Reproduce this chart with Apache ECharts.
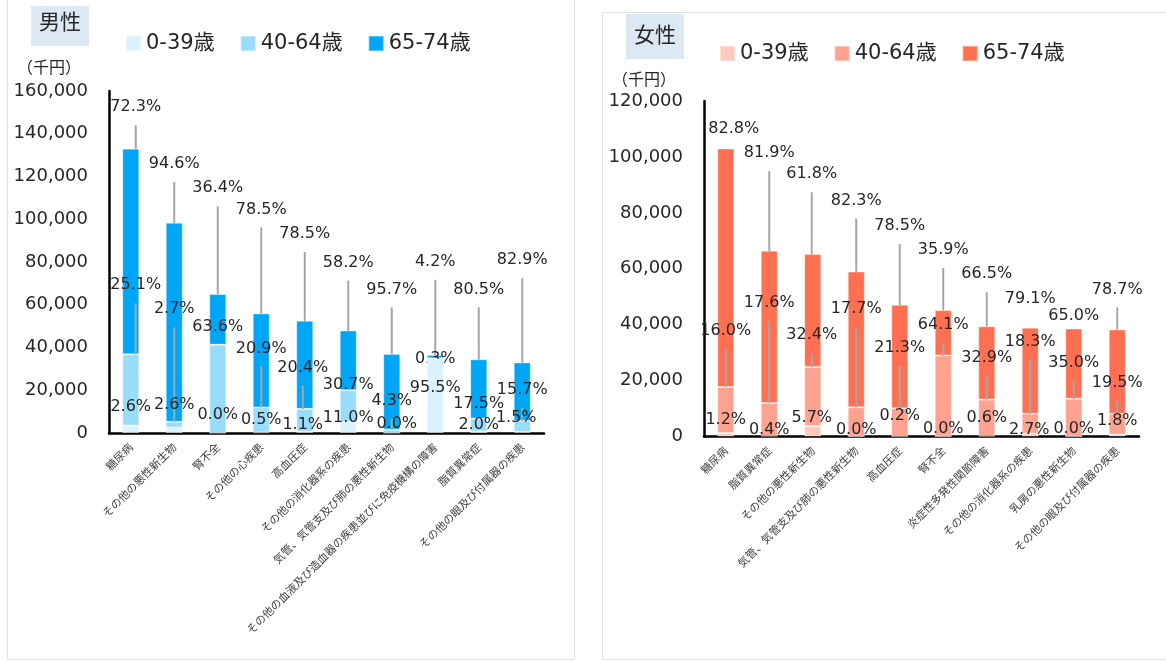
<!DOCTYPE html>
<html><head><meta charset="utf-8">
<script src="https://cdn.jsdelivr.net/npm/echarts@6/dist/echarts.min.js"></script>
<style>
html,body{margin:0;padding:0;background:#fff;width:1166px;height:662px;overflow:hidden}
#m{position:absolute;left:0;top:0;width:590px;height:662px}
#f{position:absolute;left:590px;top:0;width:576px;height:662px}
</style>
</head><body>
<div id="m"></div><div id="f"></div>
<script>
// ---------- data ----------
const ageGroups = ['0-39歳', '40-64歳', '65-74歳'];

const yTicksMale = [0, 20000, 40000, 60000, 80000, 100000, 120000, 140000, 160000];
const yTicksFemale = [0, 20000, 40000, 60000, 80000, 100000, 120000];

const maleCategories = ['糖尿病', 'その他の悪性新生物', '腎不全', 'その他の心疾患', '高血圧症',
  'その他の消化器系の疾患', '気管、気管支及び肺の悪性新生物',
  'その他の血液及び造血器の疾患並びに免疫機構の障害', '脂質異常症', 'その他の眼及び付属器の疾患'];
const male0_39  = [3460, 2560, 0, 280, 580, 5280, 0, 34860, 690, 500];
const male40_64 = [33380, 2660, 41340, 11700, 10710, 14740, 1590, 110, 6040, 5180];
const male65_74 = [96160, 93180, 23660, 43960, 41210, 27940, 35410, 1530, 27770, 27360];
const malePct0_39  = ['2.6', '2.6', '0.0', '0.5', '1.1', '11.0', '0.0', '95.5', '2.0', '1.5'];
const malePct40_64 = ['25.1', '2.7', '63.6', '20.9', '20.4', '30.7', '4.3', '0.3', '17.5', '15.7'];
const malePct65_74 = ['72.3', '94.6', '36.4', '78.5', '78.5', '58.2', '95.7', '4.2', '80.5', '82.9'];

const femaleCategories = ['糖尿病', '脂質異常症', 'その他の悪性新生物', '気管、気管支及び肺の悪性新生物',
  '高血圧症', '腎不全', '炎症性多発性関節障害', 'その他の消化器系の疾患', '乳房の悪性新生物',
  'その他の眼及び付属器の疾患'];
const female0_39  = [1240, 270, 3720, 0, 90, 0, 240, 1050, 0, 690];
const female40_64 = [16480, 11700, 21160, 10440, 10030, 28970, 12960, 7120, 13510, 7470];
const female65_74 = [85280, 54460, 40360, 48560, 36970, 16230, 26200, 30770, 25090, 30140];
const femalePct0_39  = ['1.2', '0.4', '5.7', '0.0', '0.2', '0.0', '0.6', '2.7', '0.0', '1.8'];
const femalePct40_64 = ['16.0', '17.6', '32.4', '17.7', '21.3', '64.1', '32.9', '18.3', '35.0', '19.5'];
const femalePct65_74 = ['82.8', '81.9', '61.8', '82.3', '78.5', '35.9', '66.5', '79.1', '65.0', '78.7'];

// ---------- label placement (style: [x shift px, height on value axis]) ----------
const maleLabelPos = [
  [[0,12300],[0,13100],[0,8400],[0,6100],[-2,3700],[0,6900],[5,4500],[0,20900],[0,3700],[-6,6900]],
  [[5,69200],[0,57900],[0,49700],[0,39600],[-2,30700],[0,22400],[0,15100],[0,34900],[0,13600],[0,20100]],
  [[5,152400],[0,125800],[0,114500],[0,104600],[0,93100],[0,79700],[0,67200],[0,80100],[0,67200],[0,80900]]
];
const maleLines = [
  [0,0,0,0,0,0,0,0,0,0],
  [1,1,0,1,1,0,1,0,0,1],
  [1,1,1,1,1,1,1,1,1,1]
];
const femaleLabelPos = [
  [[0,5900],[0,2300],[-1,6700],[0,2300],[0,7300],[0,2900],[0,6500],[-1,2300],[0,2900],[0,5500]],
  [[0,37800],[0,47900],[-1,36300],[0,45500],[0,31600],[0,39900],[0,28200],[0,33900],[0,26400],[0,19200]],
  [[8,110200],[0,101300],[-1,93800],[0,84400],[0,75300],[0,66700],[0,58000],[0,49400],[0,43100],[0,52600]]
];
const femaleLines = [
  [0,0,0,0,0,0,0,0,0,0],
  [1,1,1,1,1,1,1,1,1,1],
  [0,1,1,1,1,1,1,0,0,1]
];

const FONT = '"DejaVu Sans", "Noto Sans CJK JP", sans-serif';
const JFONT = '"Noto Sans CJK JP", "DejaVu Sans", sans-serif';
const TXT = '#262626';
const GAP = 10; // space between a label and the start of its leader line

function makeChart(domId, o) {
  const chart = echarts.init(document.getElementById(domId), null, {renderer: 'canvas'});
  const mk = (k) => ({
    name: ageGroups[k],
    type: 'bar',
    stack: 'total',
    barWidth: 17,
    z: [4, 3, 2][k],
    itemStyle: {color: o.colors[k], borderColor: 'rgba(255,255,255,0.35)', borderWidth: 1},
    data: o.values[k].map((v, i) => ({value: v, labelLine: {show: !!o.lines[k][i]}})),
    label: {
      show: true, position: 'inside',
      formatter: (p) => o.pct[k][p.dataIndex] + '%',
      color: TXT, fontSize: 16, fontFamily: FONT,
      textBorderWidth: 0, textShadowBlur: 0,
      backgroundColor: 'rgba(0,0,0,0)',
      padding: [0, 0, GAP * 2, 0],
      align: 'center', verticalAlign: 'middle'
    },
    labelLine: {show: false, length2: 0, smooth: false, lineStyle: {color: '#a6a6a6', width: 2}},
    labelLayout: (p) => {
      const c = o.pos[k][p.dataIndex];
      return {
        x: p.rect.x + p.rect.width / 2 + c[0],
        y: chart.convertToPixel({yAxisIndex: 0}, c[1]),
        align: 'center', verticalAlign: 'middle'
      };
    }
  });
  const ticks = o.ticks;
  chart.setOption({
    animation: false,
    backgroundColor: 'transparent',
    title: [
      {text: o.title, left: o.titleLeft, top: o.titleTop, padding: o.titlePad,
       backgroundColor: '#dce9f5',
       textStyle: {fontSize: 21, lineHeight: 21, fontWeight: 'normal', color: TXT, fontFamily: JFONT}},
      {text: '（千円）', left: o.unitLeft, top: o.unitTop, padding: 0,
       textStyle: {fontSize: 16, lineHeight: 16, fontWeight: 'normal', color: TXT, fontFamily: JFONT}}
    ],
    legend: {
      data: ageGroups, left: o.legendLeft, top: o.legendTop, padding: 0,
      itemWidth: 15, itemHeight: 15, itemGap: 25, icon: 'rect',
      textStyle: {fontSize: 21, lineHeight: 21, color: TXT, fontFamily: FONT}
    },
    graphic: [{type: 'rect', silent: true, z: -10, shape: o.frame,
               style: {fill: 'none', stroke: '#e2e2e2', lineWidth: 1}}],
    grid: {left: o.grid[0], top: o.grid[1], width: o.grid[2], height: o.grid[3],
           containLabel: false, outerBoundsMode: 'none'},
    xAxis: {
      type: 'category', data: o.categories,
      axisLine: {show: true, lineStyle: {color: '#000', width: 2.5}},
      axisTick: {show: false},
      axisLabel: {interval: 0, rotate: 45, margin: 12, fontSize: 11, color: '#404040', fontFamily: JFONT},
      splitLine: {show: false}
    },
    yAxis: {
      type: 'value', min: ticks[0], max: ticks[ticks.length - 1], interval: ticks[1] - ticks[0],
      axisLine: {show: true, lineStyle: {color: '#000', width: 2.5}},
      axisTick: {show: false},
      splitLine: {show: false},
      axisLabel: {margin: 21, fontSize: 18, color: TXT, fontFamily: FONT,
                  formatter: (v) => Number(v).toLocaleString('en-US')}
    },
    series: [mk(0), mk(1), mk(2)]
  });
  return chart;
}

makeChart('m', {
  title: '男性', titleLeft: 31, titleTop: 6, titlePad: [5, 8, 14, 8],
  unitLeft: 17, unitTop: 59,
  legendLeft: 125, legendTop: 33,
  frame: {x: 7.5, y: -10, width: 567, height: 669.5},
  grid: [109, 91, 435, 342],
  categories: maleCategories,
  values: [male0_39, male40_64, male65_74],
  pct: [malePct0_39, malePct40_64, malePct65_74],
  colors: ['#daf2fd', '#99dcfc', '#00a6f6'],
  pos: maleLabelPos, lines: maleLines, ticks: yTicksMale
});

makeChart('f', {
  title: '女性', titleLeft: 36, titleTop: 14, titlePad: [10, 8, 14, 8],
  unitLeft: 22, unitTop: 71,
  legendLeft: 129, legendTop: 43,
  frame: {x: 12.5, y: 12.5, width: 600, height: 647},
  grid: [114, 101, 435, 335.5],
  categories: femaleCategories,
  values: [female0_39, female40_64, female65_74],
  pct: [femalePct0_39, femalePct40_64, femalePct65_74],
  colors: ['#ffc9bd', '#ffa28f', '#ff6f51'],
  pos: femaleLabelPos, lines: femaleLines, ticks: yTicksFemale
});
</script>
</body></html>
